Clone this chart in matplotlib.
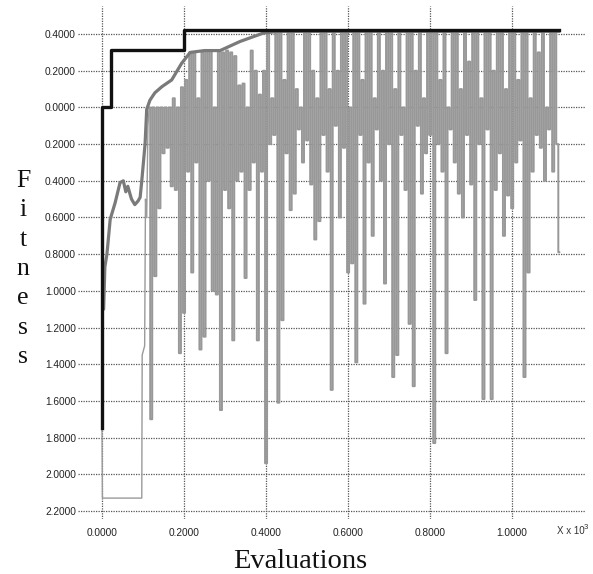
import numpy as np
import matplotlib
matplotlib.use("Agg")
import matplotlib.pyplot as plt

# ---------------- data ----------------
# best fitness (step line), x in 10^3 evaluations
best_x = [0.000, 0.000, 0.022, 0.200, 1.115]
best_y = [-1.75, 0.00, 0.313, 0.423, 0.423]

# average fitness
avg_x = [0.004, 0.007, 0.012, 0.020, 0.032, 0.044, 0.052, 0.058, 0.063, 0.068,
         0.072, 0.080, 0.088, 0.093, 0.097, 0.105, 0.109, 0.117, 0.129, 0.146,
         0.170, 0.194, 0.215, 0.250, 0.288, 0.337, 0.393, 0.430, 0.600, 0.900, 1.115]
avg_y = [-1.10, -0.87, -0.80, -0.61, -0.52, -0.41, -0.40, -0.46, -0.43, -0.47,
         -0.50, -0.53, -0.51, -0.49, -0.40, -0.20, -0.01, 0.04, 0.08, 0.113,
         0.15, 0.24, 0.30, 0.31, 0.31, 0.36, 0.405, 0.415, 0.415, 0.415, 0.415]

# current fitness: initial part
cur_start_x = [0.000, 0.001, 0.097, 0.098, 0.104, 0.106, 0.109, 0.112, 0.115]
cur_start_y = [-1.75, -2.13, -2.13, -1.35, -1.30, -0.50, -0.60, -0.10, 0.00]

# current fitness: oscillating part (x in 10^3 evaluations)
cur_x = [0.115, 0.120, 0.125, 0.130, 0.135, 0.140, 0.145, 0.150, 0.155, 0.160,
         0.165, 0.170, 0.175, 0.180, 0.185, 0.190, 0.195, 0.200, 0.205, 0.210,
         0.215, 0.220, 0.225, 0.230, 0.235, 0.240, 0.245, 0.250, 0.255, 0.260,
         0.265, 0.270, 0.275, 0.280, 0.285, 0.290, 0.295, 0.300, 0.305, 0.310,
         0.315, 0.320, 0.325, 0.330, 0.335, 0.340, 0.345, 0.350, 0.355, 0.360,
         0.365, 0.370, 0.375, 0.380, 0.385, 0.390, 0.395, 0.400, 0.405, 0.410,
         0.415, 0.420, 0.425, 0.430, 0.435, 0.440, 0.445, 0.450, 0.455, 0.460,
         0.465, 0.470, 0.475, 0.480, 0.485, 0.490, 0.495, 0.500, 0.505, 0.510,
         0.515, 0.520, 0.525, 0.530, 0.535, 0.540, 0.545, 0.550, 0.555, 0.560,
         0.565, 0.570, 0.575, 0.580, 0.585, 0.590, 0.595, 0.600, 0.605, 0.610,
         0.615, 0.620, 0.625, 0.630, 0.635, 0.640, 0.645, 0.650, 0.655, 0.660,
         0.665, 0.670, 0.675, 0.680, 0.685, 0.690, 0.695, 0.700, 0.705, 0.710,
         0.715, 0.720, 0.725, 0.730, 0.735, 0.740, 0.745, 0.750, 0.755, 0.760,
         0.765, 0.770, 0.775, 0.780, 0.785, 0.790, 0.795, 0.800, 0.805, 0.810,
         0.815, 0.820, 0.825, 0.830, 0.835, 0.840, 0.845, 0.850, 0.855, 0.860,
         0.865, 0.870, 0.875, 0.880, 0.885, 0.890, 0.895, 0.900, 0.905, 0.910,
         0.915, 0.920, 0.925, 0.930, 0.935, 0.940, 0.945, 0.950, 0.955, 0.960,
         0.965, 0.970, 0.975, 0.980, 0.985, 0.990, 0.995, 1.000, 1.005, 1.010,
         1.015, 1.020, 1.025, 1.030, 1.035, 1.040, 1.045, 1.050, 1.055, 1.060,
         1.065, 1.070, 1.075, 1.080, 1.085, 1.090, 1.095, 1.100, 1.105, 1.110,
         1.115]
cur_y = [0.00, -1.70, 0.00, -0.92, 0.00, -0.55, 0.00, -0.25, 0.00, -0.22,
         0.00, -0.43, 0.05, -0.45, 0.00, -1.34, 0.11, -1.12, 0.15, -0.35,
         0.30, -0.90, 0.30, -0.30, 0.05, -1.32, 0.30, -1.25, 0.31, -0.40,
         0.31, -1.00, 0.00, -1.02, 0.31, -1.65, 0.30, -0.45, 0.31, -0.55,
         0.30, -1.27, 0.28, -0.40, 0.12, -0.35, 0.13, -0.93, 0.00, -0.45,
         0.31, -0.30, 0.20, -1.27, 0.07, -0.35, 0.20, -1.94, 0.41, -0.20,
         0.05, -0.15, 0.41, -1.61, 0.41, -1.16, 0.15, -0.25, 0.41, -0.56,
         0.41, -0.47, 0.10, -0.12, 0.00, -0.30, 0.41, -0.18, 0.41, -0.42,
         0.20, -0.72, 0.05, -0.62, 0.41, -0.15, 0.41, -0.35, 0.10, -1.54,
         0.41, -0.10, 0.20, -0.60, 0.41, -0.22, 0.41, -0.90, 0.00, -0.85,
         0.41, -1.39, 0.41, -0.15, 0.15, -1.07, 0.41, -0.30, 0.41, -0.70,
         0.05, -0.12, 0.41, -0.40, 0.20, -0.96, 0.41, -0.20, 0.41, -1.47,
         0.10, -1.35, 0.41, -0.15, 0.00, -0.45, 0.41, -1.18, 0.41, -1.52,
         0.20, -0.10, 0.41, -0.47, 0.05, -0.25, 0.41, -0.15, 0.41, -1.83,
         0.41, -0.20, 0.15, -0.35, 0.41, -1.34, 0.00, -0.12, 0.41, -0.30,
         0.41, -0.47, 0.10, -0.60, 0.41, -0.15, 0.25, -0.42, 0.41, -1.05,
         0.41, -0.20, 0.05, -1.59, 0.41, -0.12, 0.41, -1.59, 0.20, -0.45,
         0.41, -0.25, 0.41, -0.70, 0.10, -0.48, 0.41, -0.55, 0.41, -0.30,
         0.15, -0.18, 0.41, -1.47, 0.41, -0.90, 0.05, -0.35, 0.41, -0.15,
         0.30, -0.22, 0.41, -0.40, 0.00, -0.12, 0.41, -0.35, 0.41, -0.20,
         -0.79]

x_ticks = [0.0, 0.2, 0.4, 0.6, 0.8, 1.0]
x_tick_labels = ["0.0000", "0.2000", "0.4000", "0.6000", "0.8000", "1.0000"]
y_ticks = [0.4, 0.2, 0.0, -0.2, -0.4, -0.6, -0.8, -1.0, -1.2, -1.4, -1.6, -1.8, -2.0, -2.2]
y_tick_labels = ["0.4000", "0.2000", "0.0000", "0.2000", "0.4000", "0.6000", "0.8000",
                 "1.0000", "1.2000", "1.4000", "1.6000", "1.8000", "2.0000", "2.2000"]

# ---------------- figure ----------------
W, H = 593, 574
fig = plt.figure(figsize=(W / 100, H / 100), dpi=100)
L, R, T, B = 78, 586, 6, 519
ax = fig.add_axes([L / W, 1 - B / H, (R - L) / W, (B - T) / H])
ax.set_xlim(-0.0585, 1.180)
ax.set_ylim(-2.244, 0.553)

for s in ax.spines.values():
    s.set_visible(False)

ax.set_xticks(x_ticks)
ax.set_xticklabels(x_tick_labels)
ax.set_yticks(y_ticks)
ax.set_yticklabels(y_tick_labels)
ax.tick_params(axis="both", length=0, labelsize=7.3, colors="#222222")
ax.tick_params(axis="y", pad=1.5)
ax.tick_params(axis="x", pad=6.5)
for lab in ax.get_xticklabels() + ax.get_yticklabels():
    lab.set_fontfamily("Liberation Sans")

ax.grid(True, color="#555555", linestyle=(0, (1, 1)), linewidth=0.9)
ax.set_axisbelow(True)

ax.plot(cur_start_x, cur_start_y, color="#9a9a9a", linewidth=1.0, zorder=2)
ax.plot(cur_x, cur_y, color="#989898", linewidth=1.4, drawstyle="steps-mid",
        zorder=2, snap=False)
ax.plot(avg_x, avg_y, color="#7a7a7a", linewidth=2.3, zorder=3,
        solid_joinstyle="round", solid_capstyle="round")
ax.plot(best_x, best_y, color="#111111", linewidth=2.4, drawstyle="steps-post", zorder=4)

# axis titles
letters = ["F", "i", "t", "n", "e", "s", "s"]
for k, ch in enumerate(letters):
    yb = 187 + 29.3 * k
    fig.text(23 / W, 1 - yb / H, ch, family="Liberation Serif", fontsize=18.5,
             ha="center", va="baseline", color="#111111")
fig.text(300 / W, 1 - 568 / H, "Evaluations", family="Liberation Serif",
         fontsize=20.5, ha="center", va="baseline", color="#111111")
fig.text(557 / W, 1 - 534 / H, "X x 10", family="Liberation Sans", fontsize=7,
         ha="left", va="baseline", color="#333333")
fig.text(584 / W, 1 - 529 / H, "3", family="Liberation Sans", fontsize=5.5,
         ha="left", va="baseline", color="#333333")

fig.savefig("out.png", dpi=100)
